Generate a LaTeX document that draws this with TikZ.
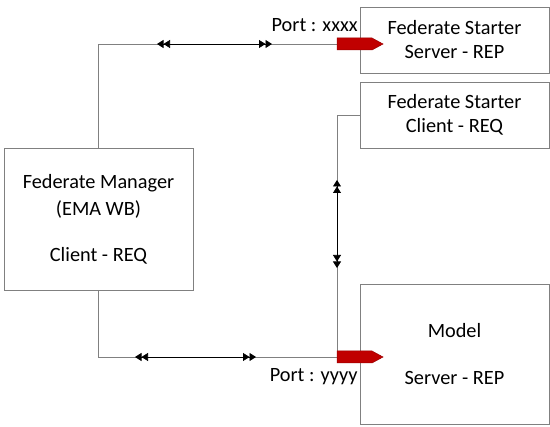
\documentclass[tikz,border=0pt]{standalone}
\usepackage{fontspec}
\setmainfont{Carlito}
\usetikzlibrary{arrows.meta,calc}
\tikzset{every picture/.style={line width=0.75pt}}
\definecolor{linegray}{RGB}{128,128,128}
\definecolor{portred}{RGB}{192,0,0}
\tikzset{
  box/.style={draw=linegray,fill=white,inner sep=0pt,minimum width=189pt,align=center,font=\fontsize{20.3}{24}\selectfont},
  conn/.style={draw=linegray},
  dbl/.style={black,{Triangle[length=6.5pt,width=8pt]Triangle[length=6.5pt,width=8pt]}-{Triangle[length=6.5pt,width=8pt]Triangle[length=6.5pt,width=8pt]}},
  port/.style={fill=portred,draw=portred!80!black,line width=0.5pt},
  lbl/.style={inner sep=0pt,font=\fontsize{20.3}{24}\selectfont}
}
\begin{document}
\begin{tikzpicture}[x=1pt,y=-1pt]
\useasboundingbox (0,0) rectangle (550,427);
\node[box,minimum height=66pt] (srv) at (454.5,40) {Federate Starter\\Server - REP}; %server
\node[box,minimum height=66pt] (cli) at (454.5,115) {Federate Starter\\Client - REQ}; %client
\node[box,minimum height=142pt] (mgr) at (98.5,219) {Federate Manager\\[3pt](EMA WB)\\[22pt]Client - REQ}; %manager
\node[box,minimum height=140pt] (mdl) at (454.5,354) {Model\\[23pt]Server - REP}; %model
\coordinate (pA) at (337,44); %port xxxx
\coordinate (pB) at (337,357); %port yyyy
\draw[conn] (mgr.north) |- (pA);
\draw[conn] (mgr.south) |- (pB);
\draw[conn] (cli.west) -| (pB);
\draw[dbl] (157,44)--(272,44);
\draw[dbl] (135,357)--(256,357);
\draw[dbl] (337,180)--(337,268);
\draw[port] ($(pA)+(0,-6)$) -- ++(35,0) -- ++(11,6) -- ++(-11,6) -- ++(-35,0) -- cycle;
\draw[port] ($(pB)+(0,-6)$) -- ++(35,0) -- ++(11,6) -- ++(-11,6) -- ++(-35,0) -- cycle;
\node[lbl,anchor=base east] (lx) at (358,32) {Port : xxxx};
\node[lbl,anchor=base east] (ly) at (358,382) {Port : yyyy};
\end{tikzpicture}
\end{document}
